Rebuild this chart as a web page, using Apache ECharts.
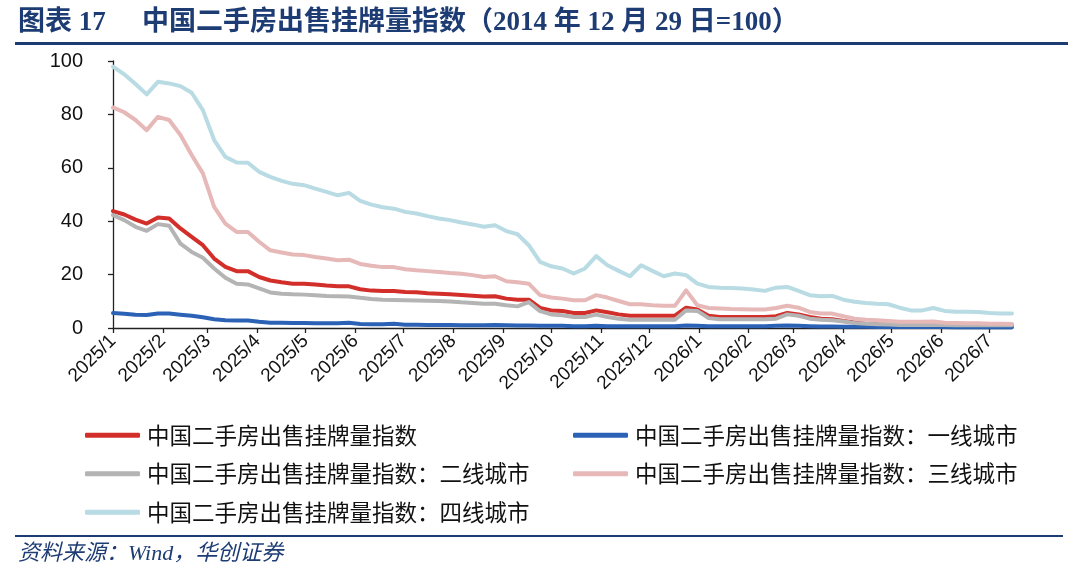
<!DOCTYPE html>
<html>
<head>
<meta charset="utf-8">
<script src="https://cdn.jsdelivr.net/npm/echarts@6/dist/echarts.min.js"></script>
<style>
  html, body { margin: 0; padding: 0; background: #fff; }
  #chart { width: 1080px; height: 572px; }
</style>
</head>
<body>
<div id="chart"></div>
<script>
// weekly observations, first one on 2025-01-01
const firstWeek = '2025-01-01';

const monthTicks = ['2025/1', '2025/2', '2025/3', '2025/4', '2025/5', '2025/6', '2025/7', '2025/8', '2025/9',
  '2025/10', '2025/11', '2025/12', '2026/1', '2026/2', '2026/3', '2026/4', '2026/5', '2026/6', '2026/7'];

const yTicks = [0, 20, 40, 60, 80, 100];

const seriesNames = [
  '中国二手房出售挂牌量指数',
  '中国二手房出售挂牌量指数：一线城市',
  '中国二手房出售挂牌量指数：二线城市',
  '中国二手房出售挂牌量指数：三线城市',
  '中国二手房出售挂牌量指数：四线城市'
];

const national = [43.8, 42.5, 40.6, 39.1, 41.4, 41.0, 37.3, 34.1, 31.0, 26.0, 22.9, 21.3, 21.3, 19.1, 17.8, 17.1, 16.6, 16.6, 16.3, 15.9, 15.6, 15.6, 14.5, 14.0, 13.9, 13.9, 13.5,
  13.4, 13.0, 12.8, 12.6, 12.4, 12.1, 11.8, 11.9, 11.0, 10.6, 10.6, 7.5, 6.6, 6.4, 5.6, 5.6, 6.6, 5.9, 5.1, 4.6, 4.6, 4.6, 4.6, 4.6, 7.6, 6.9, 4.6,
  4.1, 4.1, 4.1, 4.1, 4.1, 4.4, 5.6, 5.1, 4.1, 3.5, 3.3, 2.6, 2.1, 1.6, 1.4, 1.3, 1.1, 1.1, 1.1, 1.1, 1.0, 1.0, 1.0, 1.0, 1.0, 0.9, 0.9];

const tier1 = [5.6, 5.3, 5.0, 4.9, 5.4, 5.4, 5.0, 4.6, 4.0, 3.3, 2.9, 2.8, 2.8, 2.3, 2.0, 2.0, 1.9, 1.9, 1.8, 1.8, 1.8, 2.0, 1.5, 1.4, 1.4, 1.6, 1.2,
  1.2, 1.1, 1.1, 1.1, 1.0, 1.0, 1.0, 1.1, 1.0, 0.9, 0.9, 0.8, 0.8, 0.8, 0.7, 0.7, 0.8, 0.7, 0.7, 0.7, 0.7, 0.7, 0.7, 0.7, 0.9, 0.8, 0.7,
  0.7, 0.7, 0.7, 0.7, 0.7, 0.8, 0.9, 0.8, 0.7, 0.6, 0.6, 0.5, 0.5, 0.5, 0.4, 0.4, 0.4, 0.4, 0.4, 0.4, 0.4, 0.3, 0.3, 0.3, 0.3, 0.3, 0.3];

const tier2 = [42.3, 40.4, 37.9, 36.4, 38.9, 38.3, 31.6, 28.5, 26.3, 22.3, 18.8, 16.6, 16.3, 14.8, 13.3, 12.8, 12.6, 12.5, 12.3, 12.0, 11.9, 11.8, 11.3, 10.9, 10.6, 10.5, 10.4,
  10.3, 10.2, 10.1, 9.9, 9.6, 9.4, 9.1, 9.1, 8.5, 8.1, 9.7, 6.3, 5.1, 4.8, 4.1, 4.1, 5.0, 4.1, 3.5, 3.1, 3.1, 3.1, 3.1, 3.1, 6.6, 6.4, 3.7,
  3.3, 3.3, 3.3, 3.3, 3.3, 3.5, 5.1, 4.6, 3.5, 3.1, 2.9, 2.4, 1.9, 1.6, 1.4, 1.3, 1.1, 1.1, 1.1, 1.1, 1.1, 1.0, 1.0, 1.0, 1.0, 1.0, 1.0];

const tier3 = [82.6, 80.8, 77.9, 74.1, 79.1, 77.9, 72.3, 64.8, 57.9, 45.4, 39.1, 36.0, 36.0, 32.3, 29.1, 28.3, 27.5, 27.3, 26.6, 26.0, 25.4, 25.6, 24.0, 23.3, 22.8, 22.8, 22.0,
  21.6, 21.3, 21.0, 20.6, 20.3, 19.8, 19.1, 19.4, 17.5, 17.1, 16.6, 12.3, 11.4, 11.0, 10.4, 10.4, 12.3, 11.4, 10.1, 8.9, 8.9, 8.5, 8.3, 8.3, 14.1, 8.5, 7.5,
  7.3, 7.1, 7.0, 6.9, 6.9, 7.5, 8.3, 7.6, 6.0, 5.4, 5.4, 4.4, 3.5, 3.1, 2.9, 2.6, 2.3, 2.3, 2.3, 2.4, 2.0, 1.9, 1.8, 1.8, 1.6, 1.6, 1.5];

const tier4 = [97.9, 95.0, 91.4, 87.5, 92.2, 91.6, 90.6, 88.1, 81.6, 70.4, 64.1, 62.0, 61.9, 58.5, 56.6, 55.1, 54.0, 53.5, 52.2, 51.0, 49.7, 50.6, 47.6, 46.2, 45.2, 44.7, 43.5,
  42.9, 41.9, 41.0, 40.4, 39.5, 38.8, 37.9, 38.5, 36.3, 35.1, 31.0, 24.8, 23.1, 22.3, 20.4, 22.3, 26.9, 23.5, 21.4, 19.4, 23.5, 21.4, 19.4, 20.4, 19.8, 16.6, 15.4,
  15.1, 15.0, 14.8, 14.4, 13.9, 15.1, 15.4, 13.9, 12.3, 11.9, 12.0, 10.6, 9.8, 9.4, 9.1, 8.9, 7.6, 6.6, 6.6, 7.5, 6.4, 6.1, 6.1, 6.0, 5.6, 5.4, 5.4];

const colors = ['#d22f2b', '#2b62b5', '#b4b4b4', '#e6b8b8', '#b8dbe4'];
const DAY = 86400000;
const NAVY = '#1e3c74';
const TITLE_FONT = 'Liberation Serif, Noto Sans CJK SC';

function toUTC(s) {
  var p = s.split(/[-\/]/).map(Number);
  return Date.UTC(p[0], p[1] - 1, p[2] || 1);
}

var t0 = toUTC(firstWeek);
var weekDates = national.map(function (_, i) { return t0 + i * 7 * DAY; });
var tickValues = monthTicks.map(function (m) { return toUTC(m); });

function pairs(vals) {
  return vals.map(function (v, i) { return [weekDates[i], v]; });
}

var allSeries = [national, tier1, tier2, tier3, tier4];

var legendBase = {
  top: 424, orient: 'vertical', itemGap: 16, padding: 0,
  itemWidth: 55, itemHeight: 5, icon: 'roundRect',
  textStyle: { fontSize: 22.5, color: '#111', fontFamily: 'Noto Sans CJK SC', padding: [0, 0, 0, 2] }
};

var chart = echarts.init(document.getElementById('chart'));
chart.setOption({
  backgroundColor: '#fff',
  animation: false,
  color: colors,
  grid: { left: 113, right: 68, top: 61, bottom: 244, outerBoundsMode: 'none', containLabel: false },
  xAxis: {
    type: 'value',
    min: t0,
    max: weekDates[weekDates.length - 1],
    axisLine: { show: true, lineStyle: { color: '#222', width: 1.3 } },
    axisTick: { show: true, customValues: tickValues, length: 5, lineStyle: { color: '#222', width: 1.3 } },
    splitLine: { show: false },
    axisLabel: {
      customValues: tickValues,
      rotate: 45,
      margin: 10,
      color: '#111',
      fontSize: 19,
      fontFamily: 'Liberation Sans, Arial, sans-serif',
      formatter: function (v) {
        var d = new Date(v);
        return d.getUTCFullYear() + '/' + (d.getUTCMonth() + 1);
      }
    }
  },
  yAxis: {
    type: 'value',
    min: yTicks[0],
    max: yTicks[yTicks.length - 1],
    interval: 20,
    axisLine: { show: true, lineStyle: { color: '#222', width: 1.3 } },
    axisTick: { show: true, length: 5, lineStyle: { color: '#222', width: 1.3 } },
    splitLine: { show: false },
    axisLabel: {
      margin: 30,
      color: '#111',
      fontSize: 20,
      fontFamily: 'Liberation Sans, Arial, sans-serif'
    }
  },
  legend: [
    Object.assign({ left: 85, data: [seriesNames[0], seriesNames[2], seriesNames[4]] }, legendBase),
    Object.assign({ left: 573, data: [seriesNames[1], seriesNames[3]] }, legendBase)
  ],
  series: allSeries.map(function (vals, k) {
    return {
      name: seriesNames[k],
      type: 'line',
      data: pairs(vals),
      symbol: 'none',
      lineStyle: { width: 4, color: colors[k], cap: 'round', join: 'round' },
      itemStyle: { color: colors[k] }
    };
  }),
  graphic: [
    {
      type: 'text', x: 18, y: 23,
      style: {
        text: '图表 17', fill: NAVY, fontSize: 27, fontWeight: 'bold',
        fontFamily: TITLE_FONT, verticalAlign: 'middle'
      }
    },
    {
      type: 'text', x: 142, y: 23,
      style: {
        text: '中国二手房出售挂牌量指数（2014 年 12 月 29 日=100）',
        fill: NAVY, fontSize: 27, fontWeight: 'bold',
        fontFamily: TITLE_FONT, verticalAlign: 'middle'
      }
    },
    { type: 'rect', shape: { x: 15, y: 42, width: 1053, height: 3 }, style: { fill: NAVY } },
    { type: 'rect', shape: { x: 15, y: 535, width: 1048, height: 2 }, style: { fill: NAVY } },
    {
      type: 'text', x: 18, y: 554,
      style: {
        text: '资料来源：Wind，华创证券',
        fill: NAVY, fontSize: 22, fontStyle: 'italic',
        fontFamily: TITLE_FONT, verticalAlign: 'middle'
      }
    }
  ]
});
</script>
</body>
</html>
